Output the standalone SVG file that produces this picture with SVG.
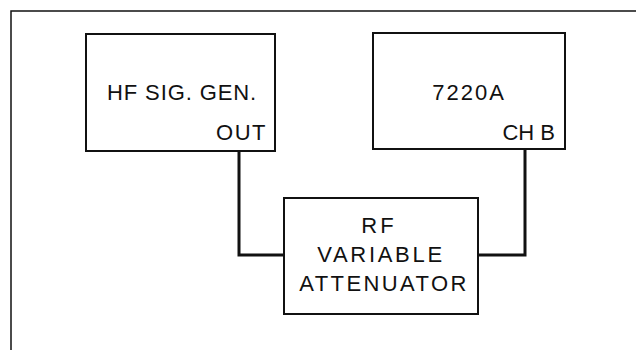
<svg xmlns="http://www.w3.org/2000/svg" width="636" height="350" viewBox="0 0 636 350">
<style>
.box{fill:#fff;stroke:#111;stroke-width:2}
.t{font-family:"Liberation Sans",Arial,sans-serif;font-size:22px;fill:#111}
.w{fill:none;stroke:#111;stroke-width:3}
.frame{fill:none;stroke:#111;stroke-width:1.5}
</style>
<rect width="636" height="350" fill="#fff"/>
<path class="frame" d="M11,350 V11 H636"/>
<g id="connectors">
<path class="w" d="M239,151 V255 H284"/>
<path class="w" d="M478,255 H525 V149"/>
</g>
<g id="hf">
<rect class="box" x="86" y="34" width="189" height="117"/>
<text class="t" x="182" y="100" text-anchor="middle" letter-spacing="0.9">HF SIG. GEN.</text>
<text class="t" x="267" y="140" text-anchor="end" letter-spacing="1.5">OUT</text>
</g>
<g id="n7220a">
<rect class="box" x="373" y="33" width="192" height="116"/>
<text class="t" x="469" y="100" text-anchor="middle" letter-spacing="2">7220A</text>
<text class="t" x="555" y="140" text-anchor="end">CH B</text>
</g>
<g id="atten">
<rect class="box" x="284" y="198" width="194" height="116"/>
<text class="t" x="379" y="233" text-anchor="middle" letter-spacing="3">RF</text>
<text class="t" x="381" y="262" text-anchor="middle" letter-spacing="2.7">VARIABLE</text>
<text class="t" x="384" y="291" text-anchor="middle" letter-spacing="2.4">ATTENUATOR</text>
</g>
</svg>
